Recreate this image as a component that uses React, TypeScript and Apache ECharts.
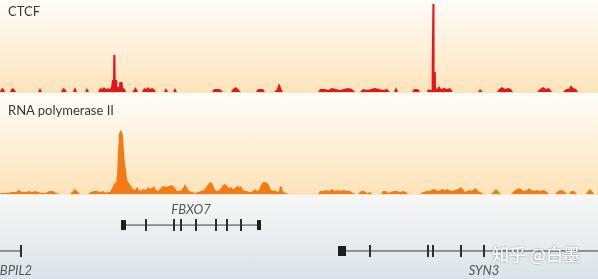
import React, { useEffect, useRef } from "react";
import * as echarts from "echarts";

// Signal tracks: [genomic position (px units), signal height]
const ctcfSignal: [number, number][] = [
  [0, 0], [1, 3], [3, 4], [5, 0],
  [10, 0], [12, 4], [14, 3], [16, 0],
  [38, 0], [40, 4], [42, 0],
  [61, 0], [63, 4], [65, 3], [67, 0],
  [73, 0], [75, 5], [77, 0],
  [85, 0], [87, 4], [89, 0],
  [98, 0], [100, 4], [102, 3], [104, 5], [106, 3], [108, 4], [109, 3], [111, 4],
  [112, 12], [113, 12], [113.3, 37], [115.4, 37], [115.7, 12], [117, 12], [117.4, 5],
  [119, 5], [119.3, 10], [122.5, 10], [123, 4], [125, 3], [126, 0],
  [132, 0], [134, 2], [135, 5], [136, 4], [138, 0],
  [142, 0], [144, 4], [146, 3], [148, 5], [150, 3], [152, 4], [154, 3], [156, 0],
  [164, 0], [166, 4], [168, 0],
  [173, 0], [175, 4], [177, 0],
  [212, 0], [214, 3], [220, 3], [223, 0],
  [231, 0], [233, 3], [236, 5], [238, 3], [241, 0],
  [256, 0], [258, 3], [263, 3], [265, 0],
  [274, 0], [277, 3], [279, 9], [281, 4], [283, 0],
  [318, 0], [320, 3], [325, 3], [328, 2], [332, 4], [336, 3], [340, 2], [344, 3], [348, 4], [352, 3], [355, 0],
  [360, 0], [363, 3], [367, 2], [371, 3], [375, 4], [379, 3], [383, 2], [387, 3], [390, 0],
  [394, 0], [396, 5], [398, 0],
  [412, 0], [414, 3], [418, 3], [420, 0],
  [427, 0], [428, 3], [430, 2], [431.6, 2], [431.7, 27], [432.3, 27], [432.4, 88], [434.5, 88],
  [434.6, 20], [435.8, 20], [436, 4], [437, 3], [439, 6], [441, 3], [444, 4], [447, 3], [450, 4], [453, 0],
  [478, 0], [480, 3], [483, 0],
  [497, 0], [499, 3], [502, 5], [505, 3], [508, 4], [511, 3], [513, 0],
  [537, 0], [540, 3], [543, 5], [546, 3], [549, 4], [552, 0],
  [563, 0], [566, 3], [569, 3], [571, 7], [573, 4], [576, 3], [578, 0],
];

const polSignal: [number, number][] = [
  [0, 0], [1, 1], [8, 1], [12, 2], [16, 2], [19, 4], [22, 2], [26, 2], [29, 3], [32, 2], [35, 3],
  [38, 2], [42, 1], [46, 1], [49, 3], [53, 3], [56, 1], [60, 0],
  [70, 0], [73, 3], [75, 5], [77, 3], [80, 0],
  [88, 0], [91, 2], [94, 3], [97, 3], [100, 2], [103, 3], [106, 1], [108, 2],
  [110, 2], [112, 6], [114, 10], [115, 12], [116, 10], [117, 19], [118, 42], [119, 60], [120, 63],
  [121, 64], [122, 62], [123, 58], [124, 42], [125, 30], [126, 24], [127, 14], [129, 11], [131, 8],
  [133, 5], [135, 4], [137, 7], [139, 4], [141, 3], [143, 5], [146, 4], [148, 7], [150, 5], [152, 6],
  [154, 8], [156, 4], [158, 3], [160, 5], [163, 8], [166, 7], [169, 8], [172, 9], [175, 6], [177, 3],
  [180, 3], [183, 6], [185, 10], [187, 6], [189, 3], [192, 2], [195, 1], [198, 2], [201, 3], [204, 4],
  [207, 8], [209, 11], [211, 12], [213, 9], [215, 4], [218, 3], [221, 6], [223, 9], [225, 10], [227, 8],
  [229, 6], [231, 7], [233, 5], [235, 6], [237, 8], [239, 7], [241, 8], [243, 4], [245, 3], [247, 3],
  [249, 2], [251, 2], [253, 3], [255, 5], [257, 3], [259, 4], [261, 9], [263, 12], [265, 12], [267, 11],
  [269, 9], [271, 4], [273, 3], [275, 4], [277, 2], [279, 3], [280, 8], [282, 7], [283, 2], [286, 1], [288, 0],
  [318, 0], [320, 3], [323, 3], [326, 4], [329, 3], [332, 5], [335, 3], [338, 4], [341, 3], [344, 4],
  [347, 3], [350, 3], [353, 1], [356, 0],
  [358, 0], [361, 3], [364, 3], [367, 1], [370, 2], [372, 0],
  [381, 0], [383, 3], [386, 3], [388, 1], [391, 2], [394, 3], [397, 3], [400, 2], [403, 3], [406, 2], [408, 0],
  [420, 0], [423, 2], [427, 3], [430, 3], [433, 5], [436, 4], [439, 3], [442, 5], [445, 4], [447, 5],
  [449, 4], [452, 3], [455, 4], [458, 5], [461, 7], [463, 5], [465, 2], [467, 3], [470, 4], [472, 3],
  [474, 5], [476, 6], [478, 3], [480, 2], [482, 1], [484, 0],
  [491, 0], [494, 3], [496, 5], [498, 3], [501, 0],
  [511, 0], [514, 3], [517, 5], [520, 6], [522, 4], [524, 3], [527, 4], [529, 6], [531, 4], [534, 3],
  [537, 4], [540, 3], [543, 4], [546, 3], [549, 0],
  [555, 0], [558, 3], [561, 4], [564, 3], [567, 0],
  [569, 0], [571, 3], [574, 3], [577, 0],
  [586, 0], [588, 3], [590, 5], [592, 3], [594, 0],
];

const trackLabels = ["CTCF", "RNA polymerase II"];

// Gene models
const geneNames = ["FBXO7", "BPIL2", "SYN3"];
const geneStart = [123, -2, 342];
const geneEnd = [259, 21, 600];
const geneLane = [1, 2, 2];
const geneExons: number[][] = [[146, 174, 181, 196, 216, 227, 241], [21], [370, 428, 433, 461, 484]];
const geneBlocks: [number, number][][] = [[[121, 126], [257, 261]], [], [[338, 346]]];
const geneLabelX = [191, 16, 484];
const geneLabelAbove = [true, false, false];

const watermark = "知乎 @白墨";

export default function App() {
  const ref = useRef<HTMLDivElement>(null);
  useEffect(() => {
    if (!ref.current) return;
    const chart = echarts.init(ref.current, undefined, { renderer: "svg" });
    const grad = (c0: string, c1: string) =>
      new echarts.graphic.LinearGradient(0, 0, 0, 1, [
        { offset: 0, color: c0 },
        { offset: 1, color: c1 },
      ]);
    const geneData = geneNames.map((n, i) => [geneStart[i], geneEnd[i], geneLane[i], i]);
    const option: any = {
      animation: false,
      grid: [
        { left: 0, right: 0, top: 0, height: 92 },
        { left: 0, right: 0, top: 95, height: 99 },
        { left: 0, right: 0, top: 196, height: 83 },
      ],
      xAxis: [0, 1, 2].map((g) => ({ type: "value", gridIndex: g, min: 0, max: 598, show: false })),
      yAxis: [
        { type: "value", gridIndex: 0, min: 0, max: 92, show: false },
        { type: "value", gridIndex: 1, min: 0, max: 99, show: false },
        { type: "value", gridIndex: 2, min: -0.12, max: 3.08, inverse: true, show: false },
      ],
      graphic: [
        { type: "rect", z: -10, shape: { x: 0, y: 0, width: 598, height: 93 }, style: { fill: grad("#fffdf9", "#fde4ba") } },
        { type: "rect", z: -10, shape: { x: 0, y: 93, width: 598, height: 102 }, style: { fill: grad("#fffdf9", "#fde3b8") } },
        { type: "rect", z: -10, shape: { x: 0, y: 195, width: 598, height: 84 }, style: { fill: grad("#f7f7f6", "#dce3e8") } },
        { type: "text", z: 50, x: 8, y: 4, style: { text: trackLabels[0], fill: "#3a3a3a", font: "13px Lato, 'Open Sans', sans-serif" } },
        { type: "text", z: 50, x: 8, y: 103, style: { text: trackLabels[1], fill: "#3a3a3a", font: "13px Lato, 'Open Sans', sans-serif" } },
        {
          type: "text", z: 60, x: 536, y: 253,
          style: {
            text: watermark, fill: "rgba(255,255,255,0.95)", align: "center", verticalAlign: "middle",
            font: "17px 'Noto Sans CJK SC', sans-serif",
            textShadowColor: "rgba(0,0,0,0.45)", textShadowBlur: 2,
          },
        },
      ],
      series: [
        {
          type: "line", xAxisIndex: 0, yAxisIndex: 0, data: ctcfSignal, symbol: "none",
          lineStyle: { width: 0 }, areaStyle: { color: "#e8141c", opacity: 1 },
          itemStyle: { color: "#e8141c" }, z: 5,
        },
        {
          type: "line", xAxisIndex: 1, yAxisIndex: 1, data: polSignal, symbol: "none",
          lineStyle: { width: 0 }, areaStyle: { color: "#f47a16", opacity: 1 },
          itemStyle: { color: "#f47a16" }, z: 5,
        },
        {
          type: "custom", xAxisIndex: 2, yAxisIndex: 2, data: geneData, z: 5,
          encode: { x: [0, 1], y: 2 },
          renderItem: (params: any, api: any) => {
            const i = api.value(3);
            const lane = api.value(2);
            const p0 = api.coord([api.value(0), lane]);
            const p1 = api.coord([api.value(1), lane]);
            const y = p0[1];
            const children: any[] = [
              { type: "line", shape: { x1: p0[0], y1: y, x2: p1[0], y2: y }, style: { stroke: "#3a3a3a", lineWidth: 1 } },
            ];
            geneExons[i].forEach((e) => {
              const ex = api.coord([e, lane])[0];
              children.push({ type: "rect", shape: { x: ex - 1, y: y - 6, width: 2, height: 12 }, style: { fill: "#2e2e2e" } });
            });
            geneBlocks[i].forEach(([a, b]) => {
              const xa = api.coord([a, lane])[0];
              const xb = api.coord([b, lane])[0];
              children.push({ type: "rect", shape: { x: xa, y: y - 5, width: xb - xa, height: 10 }, style: { fill: "#1e1e1e" } });
            });
            const lx = api.coord([geneLabelX[i], lane])[0];
            children.push({
              type: "text", x: lx, y: geneLabelAbove[i] ? y - 16 : y + 19,
              style: {
                text: geneNames[i], fill: "#555555", align: "center", verticalAlign: "middle",
                font: "italic 13px Lato, 'Open Sans', sans-serif",
              },
            });
            return { type: "group", children };
          },
        },
      ],
    };
    chart.setOption(option);
    return () => chart.dispose();
  }, []);
  return <div ref={ref} style={{ position: "fixed", left: 0, top: 0, width: 598, height: 279 }} />;
}
